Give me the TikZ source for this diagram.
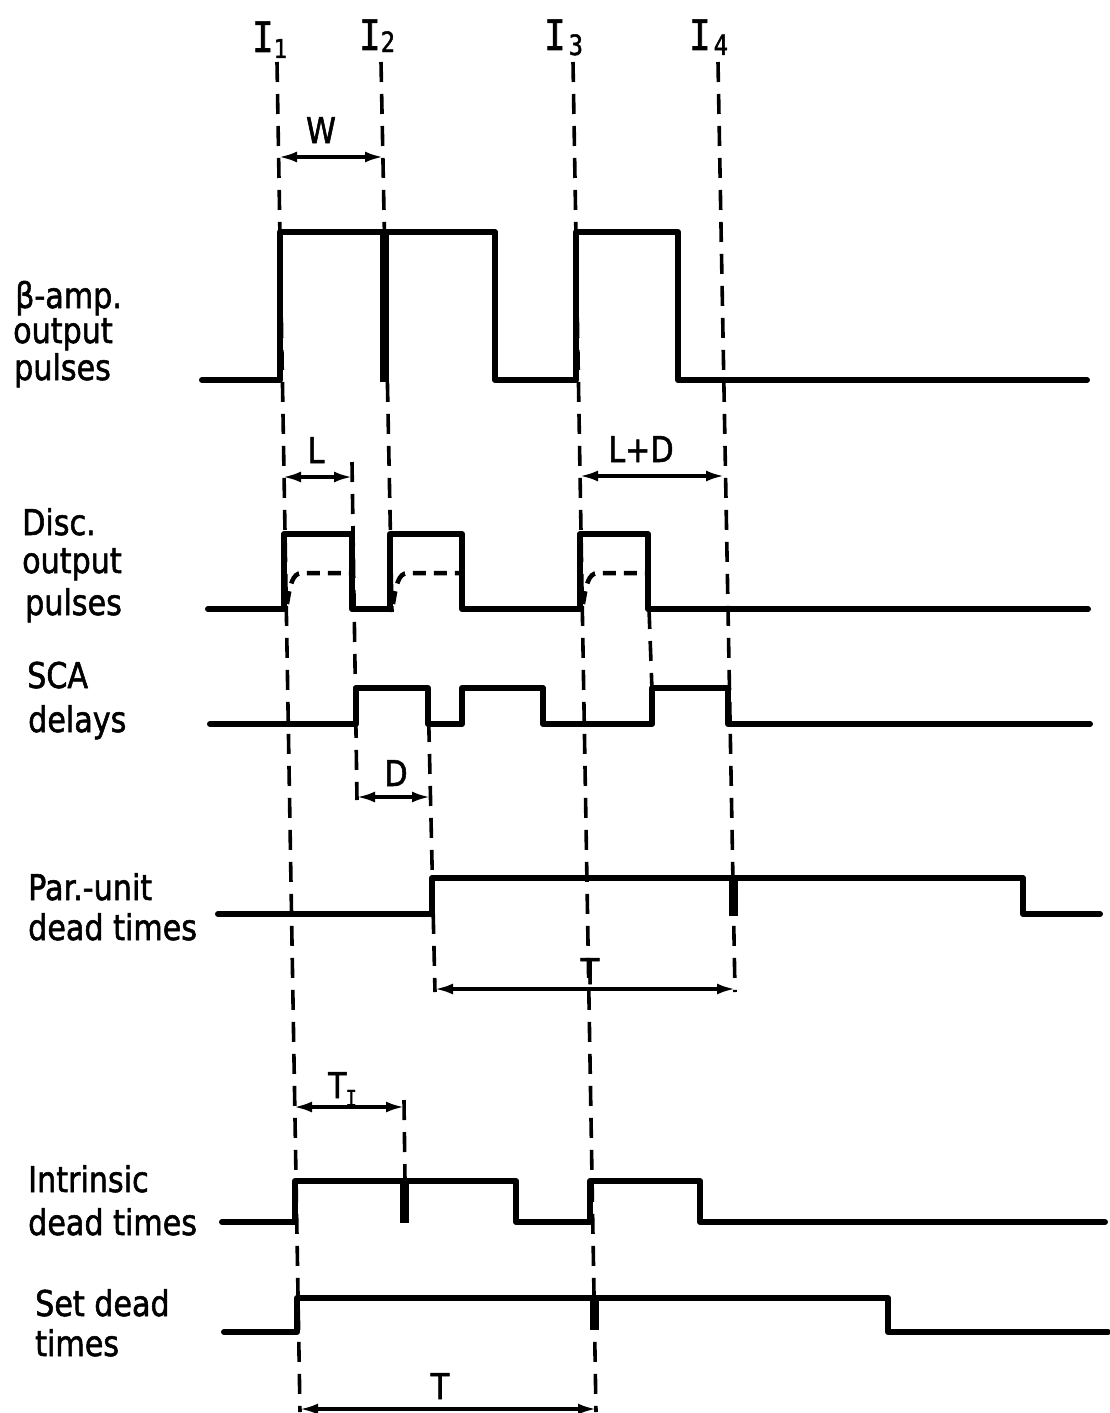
\documentclass[tikz,border=0pt]{standalone}
\usepackage{fontspec}
\setmainfont[FakeStretch=0.85,FakeBold=1.5]{DejaVu Sans}
\newfontfamily\ifont[FakeStretch=0.85,FakeBold=1.5]{DejaVu Sans Mono}
\usetikzlibrary{arrows.meta}
\begin{document}
\begin{tikzpicture}[x=1pt,y=-1pt,
  sig/.style={line width=6pt, line join=round, line cap=round},
  guide/.style={line width=3.6pt, dash pattern=on 20pt off 12pt},
  inner/.style={line width=4.5pt, dash pattern=on 13pt off 8pt},
  thickbar/.style={line width=9pt},
  dim/.style={line width=3.2pt, {Latex[length=18pt,width=11pt]}-{Latex[length=18pt,width=11pt]}},
  lbl/.style={anchor=base west, inner sep=0pt, font=\fontsize{35.5}{40}\selectfont},
  dlbl/.style={anchor=base, inner sep=0pt, font=\fontsize{35.5}{40}\selectfont}]
\useasboundingbox[fill=white] (0,0) rectangle (1109,1413);

% ---- guide lines (named end points)
\coordinate (g1a) at (277,62);  \coordinate (g1b) at (300,1412);
\coordinate (g2a) at (381,62);  \coordinate (g2b) at (392,612);
\coordinate (gLa) at (352,462); \coordinate (gLb) at (357,800);
\coordinate (gDa) at (428,690); \coordinate (gDb) at (435,992);
\coordinate (g3a) at (573,62);  \coordinate (g3b) at (596,1412);
\coordinate (g4a) at (718,62);  \coordinate (g4b) at (735,992);
\coordinate (gEa) at (649,609); \coordinate (gEb) at (652,690);
\coordinate (gTa) at (404,1100);\coordinate (gTb) at (405,1181);
\draw[guide] (g1a) -- (g1b);
\draw[guide] (g2a) -- (g2b);
\draw[guide] (gLa) -- (gLb);
\draw[guide] (gDa) -- (gDb);
\draw[guide] (g3a) -- (g3b);
\draw[guide] (g4a) -- (g4b);
\draw[guide] (gEa) -- (gEb);
\draw[guide] (gTa) -- (gTb);

% ---- top labels
\node[lbl] (I1) at (252,52) {\ifont\fontsize{42}{44}\selectfont I\kern0pt\raisebox{-6pt}{\fontsize{26}{28}\selectfont 1}};
\node[lbl] (I2) at (359,50) {\ifont\fontsize{42}{44}\selectfont I\kern0pt\raisebox{-2pt}{\fontsize{28}{30}\selectfont 2}};
\node[lbl] (I3) at (544,50) {\ifont\fontsize{42}{44}\selectfont I\kern3pt\raisebox{-5pt}{\fontsize{28}{30}\selectfont 3}};
\node[lbl] (I4) at (689,50) {\ifont\fontsize{42}{44}\selectfont I\kern3pt\raisebox{-5pt}{\fontsize{28}{30}\selectfont 4}};

% ---- row labels
\node[lbl] (b1) at (15,308) {β-amp.};
\node[lbl] (b2) at (13,343) {output};
\node[lbl] (b3) at (14,380) {pulses};
\node[lbl] (d1) at (22,535) {Disc.};
\node[lbl] (d2) at (22,573) {output};
\node[lbl] (d3) at (25,615) {pulses};
\node[lbl] (s1) at (27,688) {SCA};
\node[lbl] (s2) at (28,732) {delays};
\node[lbl] (p1) at (28,900) {Par.-unit};
\node[lbl] (p2) at (28,940) {dead times};
\node[lbl] (n1) at (28,1192) {Intrinsic};
\node[lbl] (n2) at (28,1235) {dead times};
\node[lbl] (t1) at (35,1316) {Set dead};
\node[lbl] (t2) at (35,1356) {times};

% ---- waveforms
\draw[sig] (202,380) -- (280,380) -- (280,232) -- (495,232) -- (495,380) -- (576,380) -- (576,232) -- (678,232) -- (678,380) -- (1087,380);
\draw[thickbar] (384,232) -- (384,382);

\draw[sig] (208,609) -- (284,609) -- (284,534) -- (352,534) -- (352,609) -- (390,609) -- (390,534) -- (462,534) -- (462,609) -- (580,609) -- (580,534) -- (648,534) -- (648,609) -- (1088,609);
\draw[inner] (287,604) .. controls (290,586) and (292,573) .. (302,573) -- (350,573);
\draw[inner] (393,604) .. controls (396,586) and (398,573) .. (408,573) -- (460,573);
\draw[inner] (583,604) .. controls (586,586) and (588,573) .. (598,573) -- (646,573);

\draw[sig] (210,724) -- (356,724) -- (356,688) -- (428,688) -- (428,724) -- (462,724) -- (462,688) -- (543,688) -- (543,724) -- (652,724) -- (652,688) -- (728,688) -- (728,724) -- (1090,724);

\draw[sig] (218,914) -- (432,914) -- (432,878) -- (1023,878) -- (1023,914) -- (1100,914);
\draw[thickbar] (733,878) -- (733,916);

\draw[sig] (222,1222) -- (295,1222) -- (295,1181) -- (516,1181) -- (516,1222) -- (590,1222) -- (590,1181) -- (700,1181) -- (700,1222) -- (1105,1222);
\draw[thickbar] (404,1181) -- (404,1223);

\draw[sig] (224,1332) -- (297,1332) -- (297,1298) -- (888,1298) -- (888,1332) -- (1108,1332);
\draw[thickbar] (594,1298) -- (594,1330);

% ---- dimension arrows
\coordinate (wA) at (279,157); \coordinate (wB) at (383,157);
\draw[dim] (wA) -- (wB);
\node[dlbl] (W) at (321,143) {W};

\coordinate (lA) at (283,477); \coordinate (lB) at (352,477);
\draw[dim] (lA) -- (lB);
\node[dlbl] (L) at (316,463) {L};

\coordinate (ldA) at (580,476); \coordinate (ldB) at (724,476);
\draw[dim] (ldA) -- (ldB);
\node[dlbl] (LD) at (641,462) {L+D};

\coordinate (dA) at (357,797); \coordinate (dB) at (430,797);
\draw[dim] (dA) -- (dB);
\node[dlbl] (D) at (396,786) {D};

\coordinate (tA) at (435,989); \coordinate (tB) at (735,989);
\draw[dim] (tA) -- (tB);
\node[dlbl] (T1) at (590,984) {T};

\coordinate (tiA) at (294,1107); \coordinate (tiB) at (404,1107);
\draw[dim] (tiA) -- (tiB);
\node[lbl] (TI) at (328,1098) {T\kern-1pt\raisebox{-8pt}{\ifont\fontsize{22}{24}\selectfont I}};

\coordinate (tsA) at (300,1409); \coordinate (tsB) at (596,1409);
\draw[dim] (tsA) -- (tsB);
\node[dlbl] (T2) at (440,1399) {T};
\end{tikzpicture}
\end{document}
